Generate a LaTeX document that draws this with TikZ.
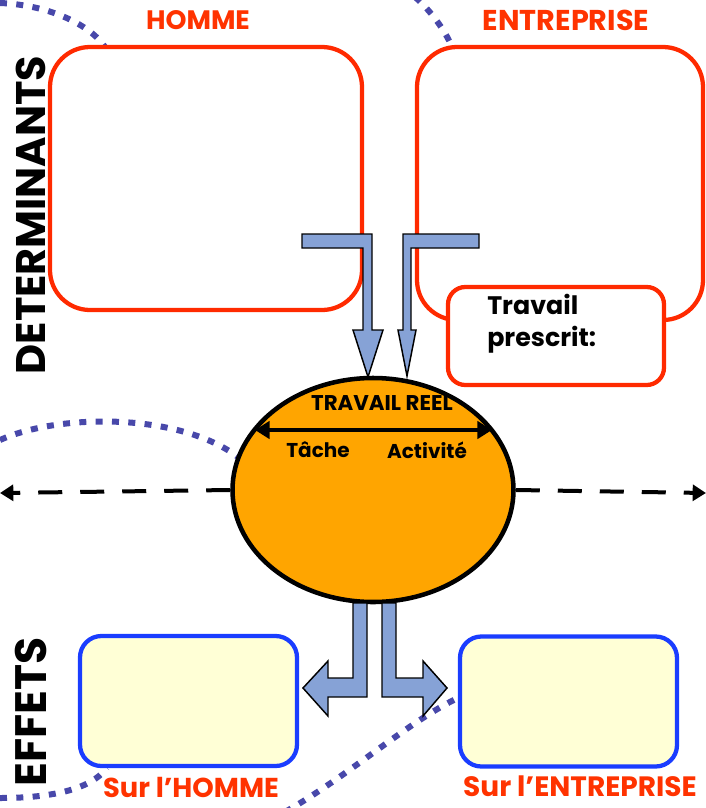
\documentclass[tikz,border=0pt]{standalone}
\usepackage{fontspec}
\setmainfont{Poppins}
\usetikzlibrary{shapes.geometric,arrows.meta}
\definecolor{boxred}{HTML}{FF2A00}
\definecolor{txtred}{HTML}{FF3300}
\definecolor{boxblue}{HTML}{1A3DFF}
\definecolor{dotblue}{HTML}{4848AA}
\definecolor{ellorange}{HTML}{FFA500}
\definecolor{paleyellow}{HTML}{FFFFD6}
\definecolor{arrowblue}{HTML}{86A2D6}
\tikzset{
  redbox/.style={draw=boxred, line width=3.2pt, rounded corners=30pt, fill=white, inner sep=0pt},
  bluebox/.style={draw=boxblue, line width=3.2pt, rounded corners=16pt, fill=paleyellow, inner sep=0pt},
  dotline/.style={draw=dotblue, line width=4.5pt, dash pattern=on 5.25pt off 7pt},
  blockarrow/.style={fill=arrowblue, draw=black, line width=1.1pt, line join=miter},
  redlabel/.style={text=txtred, inner sep=0pt, font=\bfseries\fontsize{20}{24}\selectfont},
  sidelabel/.style={font=\bfseries\fontsize{31}{36}\selectfont, rotate=90},
  smalltxt/.style={font=\bfseries\fontsize{15}{18}\selectfont}
}
\begin{document}
\begin{tikzpicture}[x=0.75pt,y=-0.75pt]
\useasboundingbox (0,0) rectangle (706,808);
% dotted curves
\draw[dotline] (0,3) .. controls (50,5) and (90,25) .. (105,47);
\draw[dotline] (415,-3) .. controls (430,10) and (445,30) .. (452,47);
\draw[dotline] (0,440) .. controls (60,413) and (180,413) .. (238,457);
\draw[dotline] (0,798) .. controls (50,798) and (90,790) .. (107,768);
\draw[dotline] (285,812) .. controls (350,775) and (410,720) .. (460,697);
% top boxes
\node[redbox, minimum width=234pt, minimum height=197.25pt] (homme) at (206,178.5) {};
\node[redbox, minimum width=214.5pt, minimum height=204.75pt] (entr) at (560,183.5) {};
\node[redbox, rounded corners=13pt, minimum width=162pt, minimum height=73.5pt] (presc) at (556,336) {};
\node[font=\bfseries\fontsize{19}{24}\selectfont, anchor=north west, align=left, inner sep=0pt] (presctxt) at (487,294) {Travail\\prescrit:};
% labels
\node[redlabel] (lhomme) at (198,20) {HOMME};
\node[redlabel, font=\bfseries\fontsize{21.5}{24}\selectfont] (lentr) at (566,20) {ENTREPRISE};
\node[sidelabel] (ldet) at (31,215) {DETERMINANTS};
\node[sidelabel, font=\bfseries\fontsize{33}{36}\selectfont] (leff) at (31,712) {EFFETS};
% dashed axis
\coordinate (lend) at (0,493);
\coordinate (rend) at (706,493);
\node[ellipse, draw=black, line width=3.4pt, fill=ellorange, minimum width=210.75pt, minimum height=168pt, inner sep=0pt] (ell) at (373,490) {};
\draw[line width=3pt, dash pattern=on 18pt off 13.5pt, -{Triangle[length=10pt,width=12pt]}] (ell.west) -- (lend);
\draw[line width=3pt, dash pattern=on 18pt off 13.5pt, -{Triangle[length=10pt,width=12pt]}] (ell.east) -- (rend);
% inside ellipse
\coordinate (dl) at (255,430);
\coordinate (dr) at (492,430);
\draw[line width=3pt, {Triangle[length=11pt,width=13pt]}-{Triangle[length=11pt,width=13pt]}] (dl) -- (dr);
\node[smalltxt, font=\bfseries\fontsize{16}{20}\selectfont] (treel) at (382,403) {TRAVAIL REEL};
\node[smalltxt] (tache) at (318,450) {Tâche};
\node[smalltxt] (activ) at (427,450) {Activité};
% block arrows top
\draw[blockarrow] (302,234) -- (372,234) -- (372,330) -- (383,330) -- (368,377) -- (353,330) -- (363,330) -- (363,248) -- (302,248) -- cycle;
\draw[blockarrow] (479,234) -- (403,234) -- (403,330) -- (398,330) -- (407,376) -- (416,330) -- (411,330) -- (411,248) -- (479,248) -- cycle;
% bottom boxes
\node[bluebox, minimum width=162.75pt, minimum height=97.5pt] (effh) at (188.5,701) {};
\node[bluebox, minimum width=162.75pt, minimum height=97.5pt] (effe) at (568.5,701.5) {};
% block arrows bottom
\draw[blockarrow] (353,603) -- (367,603) -- (367,697) -- (328,697) -- (328,716) -- (303,688) -- (328,661) -- (328,678) -- (353,678) -- cycle;
\draw[blockarrow] (382,603) -- (396,603) -- (396,678) -- (423,678) -- (423,661) -- (447,688) -- (423,716) -- (423,697) -- (382,697) -- cycle;
% bottom labels
\node[redlabel, font=\bfseries\fontsize{20.5}{24}\selectfont] (surh) at (191,787) {Sur l’HOMME};
\node[redlabel, font=\bfseries\fontsize{21}{24}\selectfont] (sure) at (580,786) {Sur l’ENTREPRISE};
\end{tikzpicture}
\end{document}
